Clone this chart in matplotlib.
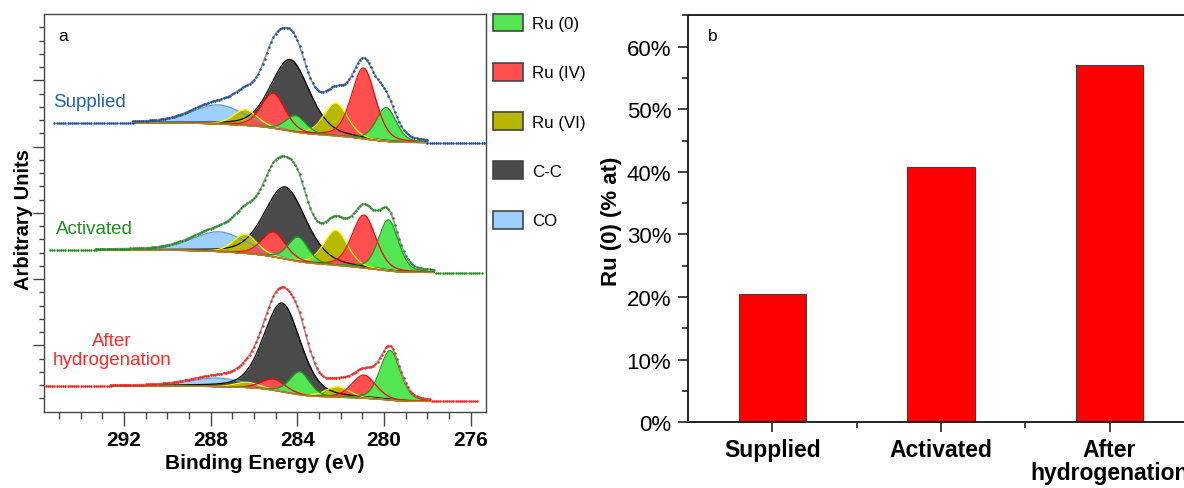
import numpy as np
import matplotlib
matplotlib.use('Agg')
import matplotlib.pyplot as plt
from matplotlib.patches import Patch
from matplotlib.ticker import MultipleLocator, FixedLocator, PercentFormatter

plt.rcParams['font.family'] = ['Liberation Sans', 'DejaVu Sans']

# ---- data ----
samples = ['Supplied', 'Activated', 'After\nhydrogenation']
label_colors = ['#2262a8', '#1e8e1e', '#ff2a2a']
dot_colors = ['#1f4f94', '#268c26', '#ff2020']

# Ru 3d5/2 fitted peaks per sample: [Ru(0), Ru(IV), Ru(VI)] ; 3d3/2 partner is so_split higher
ru_pos = [[279.90, 280.95, 282.23], [279.80, 280.93, 282.23], [279.72, 280.93, 282.14]]
ru_h52 = [[0.51, 1.07, 0.50], [0.77, 0.80, 0.53], [0.75, 0.35, 0.16]]
ru_h32 = [[0.25, 0.53, 0.24], [0.37, 0.38, 0.29], [0.35, 0.17, 0.08]]
ru_fwhm = [1.1, 1.3, 1.3]
so_split = 4.17

cc_pos = [284.33, 284.56, 284.70]
cc_h = [1.08, 1.09, 1.34]
cc_fwhm = [2.1, 2.25, 2.0]

co_pos = [287.65, 287.60, 287.70]
co_h = [0.29, 0.30, 0.13]
co_fwhm = [2.8, 2.9, 2.9]

bg_hi = [4.36, 2.44, 0.39]
bg_lo = [4.06, 2.10, 0.155]
fit_range = [(278.0, 291.6), (277.7, 293.3), (277.9, 292.6)]
dot_range = [(275.2, 295.3), (275.5, 295.5), (275.7, 295.7)]

comp_names = ['Ru (0)', 'Ru (IV)', 'Ru (VI)', 'C-C', 'CO']
comp_fill = ['#52e652', '#ff4f4f', '#b8b800', '#4a4a4a', '#9fcfff']
comp_edge = ['#1d9a1d', '#ff0000', '#ffff00', '#000000', '#5b9bd5']

ru0_pct = [20.5, 40.8, 57.0]


def peak(e, c, h, w, eta=0.3):
    x = (e - c) / (w / 2.0)
    return h * ((1 - eta) * np.exp(-np.log(2) * x ** 2) + eta / (1 + x ** 2))


fig = plt.figure(figsize=(11.84, 4.89), dpi=100)

# ---------------- panel a ----------------
ax = fig.add_axes([44.3 / 1184, (489 - 412.7) / 489, (486 - 44.3) / 1184, (412.7 - 15) / 489])

for s in range(3):
    e = np.arange(fit_range[s][0], fit_range[s][1] + 1e-9, 0.02)
    peaks = []  # (component index, curve) in drawing order
    peaks.append((4, peak(e, co_pos[s], co_h[s], co_fwhm[s])))
    peaks.append((3, peak(e, cc_pos[s], cc_h[s], cc_fwhm[s])))
    for k in [2, 1, 0]:
        peaks.append((k, peak(e, ru_pos[s][k] + so_split, ru_h32[s][k], ru_fwhm[k])))
        peaks.append((k, peak(e, ru_pos[s][k], ru_h52[s][k], ru_fwhm[k])))
    total = np.sum([p for _, p in peaks], axis=0)
    # Shirley-type background
    cum = np.concatenate([[0], np.cumsum((total[1:] + total[:-1]) / 2 * np.diff(e))])
    bg = bg_lo[s] + (bg_hi[s] - bg_lo[s]) * cum / cum[-1]

    for k, p in peaks:
        ax.fill_between(e, bg, bg + p, color=comp_fill[k], lw=0, zorder=2)
    for k, p in peaks:
        ax.plot(e, bg + p, color=comp_edge[k], lw=0.9, zorder=3)
    ax.plot(e, bg, color='#c07a35', lw=1.0, zorder=4)
    ax.plot(e, bg + total, color='#999999', lw=1.2, zorder=5)

    # measured points
    left = np.arange(fit_range[s][1], dot_range[s][1], 0.1)
    mid = np.arange(fit_range[s][0], fit_range[s][1], 0.1)
    right = np.arange(dot_range[s][0], fit_range[s][0], 0.1)
    env = np.interp(mid, e, bg + total)
    de = np.concatenate([right, mid, left])
    dy = np.concatenate([np.full(right.size, bg_lo[s]), env, np.full(left.size, bg_hi[s])])
    ax.plot(de, dy, 'o', ms=1.8, color=dot_colors[s], mew=0, zorder=6)

ax.text(293.6, 4.68, samples[0], color=label_colors[0], fontsize=13.5, ha='center', va='center')
ax.text(293.35, 2.76, samples[1], color=label_colors[1], fontsize=13.5, ha='center', va='center')
ax.text(292.55, 0.93, samples[2], color=label_colors[2], fontsize=13.5, ha='center', va='center',
        linespacing=1.15)
ax.text(0.042, 0.945, 'a', transform=ax.transAxes, fontsize=12.5, ha='center', va='center')

ax.set_xlim(295.67, 275.3)
ax.set_ylim(0, 6)
ax.xaxis.set_major_locator(MultipleLocator(4))
ax.xaxis.set_minor_locator(MultipleLocator(1))
ax.yaxis.set_major_locator(FixedLocator([1, 2, 3, 4, 5]))
ax.yaxis.set_minor_locator(FixedLocator(np.arange(0.2, 5.9, 0.2)))
ax.set_yticklabels([])
ax.tick_params(axis='x', which='major', direction='out', length=10, width=1, pad=3,
               labelsize=15, color='#444444')
ax.tick_params(axis='x', which='minor', direction='out', length=5, width=1, color='#444444')
ax.tick_params(axis='y', which='major', direction='out', length=8, width=1, color='#444444')
ax.tick_params(axis='y', which='minor', direction='out', length=3.6, width=1, color='#444444')
for t in ax.get_xticklabels():
    t.set_fontweight('bold')
for sp in ax.spines.values():
    sp.set_color('#444444')
    sp.set_linewidth(1.0)
ax.set_xlabel('Binding Energy (eV)', fontsize=15, fontweight='bold')
ax.xaxis.set_label_coords(0.5, -0.105)
ax.set_ylabel('Arbitrary Units', fontsize=14.5, fontweight='bold')
ax.yaxis.set_label_coords(-0.026, 0.485)

handles = [Patch(facecolor=comp_fill[k], edgecolor='#444444', lw=1.2) for k in range(5)]
fig.legend(handles, comp_names, loc='upper left', bbox_to_anchor=(493 / 1184, 1 - 14.5 / 489),
           frameon=False, fontsize=12.2, handlelength=1.77, handleheight=1.24,
           labelspacing=1.86, handletextpad=0.55, borderpad=0, borderaxespad=0)

# ---------------- panel b ----------------
ax2 = fig.add_axes([688 / 1184, (489 - 423.3) / 489, 3 * 168.6 / 1184, (423.3 - 15.7) / 489])
xpos = np.arange(len(samples))
ax2.bar(xpos, ru0_pct, width=0.4, color='#ff0000', edgecolor='#404040', lw=0.8)
ax2.set_xlim(-0.5, 2.5)
ax2.set_ylim(0, 65.1)
ax2.set_xticks(xpos)
ax2.set_xticklabels(samples, fontsize=16.5, fontweight='bold')
for t in ax2.get_xticklabels():
    t.set_linespacing(1.0)
ax2.xaxis.set_minor_locator(FixedLocator([0.5, 1.5]))
ax2.yaxis.set_major_locator(MultipleLocator(10))
ax2.yaxis.set_minor_locator(MultipleLocator(5))
ax2.yaxis.set_major_formatter(PercentFormatter(decimals=0))
ax2.tick_params(axis='both', which='major', direction='out', length=7, width=1.2, color='#222222')
ax2.tick_params(axis='both', which='minor', direction='out', length=4, width=1.2, color='#222222')
ax2.tick_params(axis='y', labelsize=16, pad=5)
ax2.tick_params(axis='x', pad=4)
for sp in ax2.spines.values():
    sp.set_color('#222222')
    sp.set_linewidth(1.4)
ax2.set_ylabel('Ru (0) (% at)', fontsize=16, fontweight='bold')
ax2.yaxis.set_label_coords(-0.13, 0.496)
ax2.text(0.049, 0.948, 'b', transform=ax2.transAxes, fontsize=12.5, ha='center', va='center')

fig.savefig('out.png', dpi=100)
